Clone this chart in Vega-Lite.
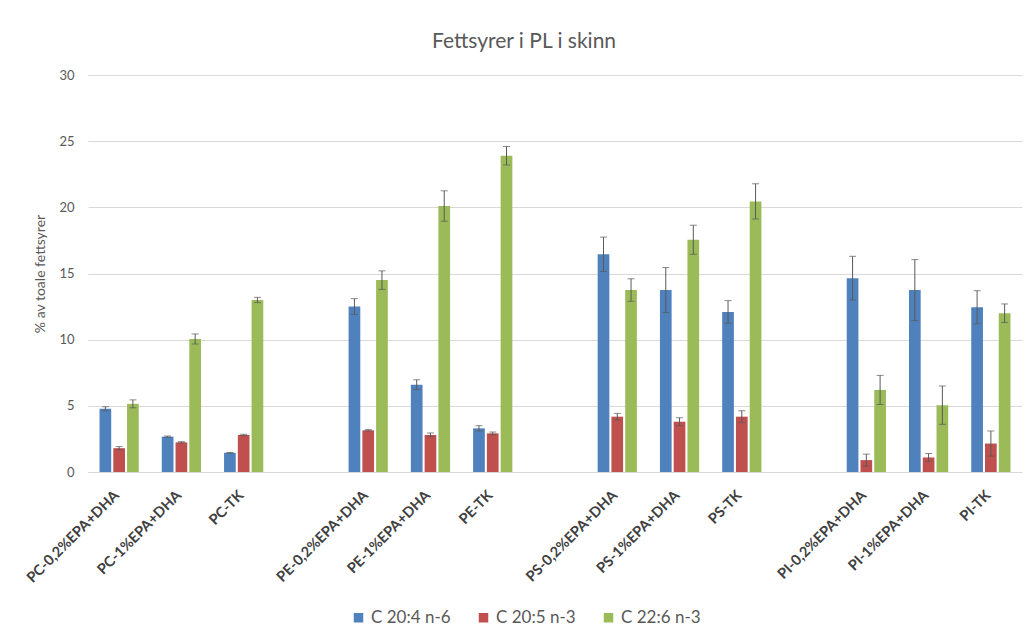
{
  "$schema": "https://vega.github.io/schema/vega-lite/v6.json",
  "autosize": "none",
  "width": 934,
  "height": 397,
  "padding": {"left": 88, "top": 75, "right": 5, "bottom": 167},
  "background": "white",
  "title": {
    "text": "Fettsyrer i PL i skinn",
    "font": "Lato",
    "fontSize": 21,
    "fontWeight": "normal",
    "color": "#595959",
    "anchor": "middle",
    "dx": -31,
    "offset": 17
  },
  "config": {
    "view": {"stroke": null},
    "font": "Lato"
  },
  "data": {
    "values": [
      {"cat": "PC-0,2%EPA+DHA", "s": "C 20:4 n-6", "v": 4.78, "lo": 4.63, "hi": 4.93},
      {"cat": "PC-0,2%EPA+DHA", "s": "C 20:5 n-3", "v": 1.8, "lo": 1.68, "hi": 1.92},
      {"cat": "PC-0,2%EPA+DHA", "s": "C 22:6 n-3", "v": 5.15, "lo": 4.85, "hi": 5.45},
      {"cat": "PC-1%EPA+DHA", "s": "C 20:4 n-6", "v": 2.67, "lo": 2.62, "hi": 2.72},
      {"cat": "PC-1%EPA+DHA", "s": "C 20:5 n-3", "v": 2.24, "lo": 2.19, "hi": 2.29},
      {"cat": "PC-1%EPA+DHA", "s": "C 22:6 n-3", "v": 10.05, "lo": 9.67, "hi": 10.43},
      {"cat": "PC-TK", "s": "C 20:4 n-6", "v": 1.45, "lo": 1.42, "hi": 1.48},
      {"cat": "PC-TK", "s": "C 20:5 n-3", "v": 2.8, "lo": 2.75, "hi": 2.85},
      {"cat": "PC-TK", "s": "C 22:6 n-3", "v": 13.0, "lo": 12.8, "hi": 13.2},
      {"cat": "PE-0,2%EPA+DHA", "s": "C 20:4 n-6", "v": 12.5, "lo": 11.9, "hi": 13.1},
      {"cat": "PE-0,2%EPA+DHA", "s": "C 20:5 n-3", "v": 3.15, "lo": 3.1, "hi": 3.2},
      {"cat": "PE-0,2%EPA+DHA", "s": "C 22:6 n-3", "v": 14.5, "lo": 13.8, "hi": 15.2},
      {"cat": "PE-1%EPA+DHA", "s": "C 20:4 n-6", "v": 6.6, "lo": 6.23, "hi": 6.97},
      {"cat": "PE-1%EPA+DHA", "s": "C 20:5 n-3", "v": 2.8, "lo": 2.65, "hi": 2.95},
      {"cat": "PE-1%EPA+DHA", "s": "C 22:6 n-3", "v": 20.1, "lo": 18.95, "hi": 21.25},
      {"cat": "PE-TK", "s": "C 20:4 n-6", "v": 3.3, "lo": 3.1, "hi": 3.5},
      {"cat": "PE-TK", "s": "C 20:5 n-3", "v": 2.92, "lo": 2.82, "hi": 3.02},
      {"cat": "PE-TK", "s": "C 22:6 n-3", "v": 23.9, "lo": 23.2, "hi": 24.6},
      {"cat": "PS-0,2%EPA+DHA", "s": "C 20:4 n-6", "v": 16.45, "lo": 15.15, "hi": 17.75},
      {"cat": "PS-0,2%EPA+DHA", "s": "C 20:5 n-3", "v": 4.18, "lo": 3.93, "hi": 4.43},
      {"cat": "PS-0,2%EPA+DHA", "s": "C 22:6 n-3", "v": 13.75, "lo": 12.9, "hi": 14.6},
      {"cat": "PS-1%EPA+DHA", "s": "C 20:4 n-6", "v": 13.75, "lo": 12.05, "hi": 15.45},
      {"cat": "PS-1%EPA+DHA", "s": "C 20:5 n-3", "v": 3.8, "lo": 3.5, "hi": 4.1},
      {"cat": "PS-1%EPA+DHA", "s": "C 22:6 n-3", "v": 17.55, "lo": 16.45, "hi": 18.65},
      {"cat": "PS-TK", "s": "C 20:4 n-6", "v": 12.1, "lo": 11.25, "hi": 12.95},
      {"cat": "PS-TK", "s": "C 20:5 n-3", "v": 4.18, "lo": 3.73, "hi": 4.63},
      {"cat": "PS-TK", "s": "C 22:6 n-3", "v": 20.45, "lo": 19.12, "hi": 21.78},
      {"cat": "PI-0,2%EPA+DHA", "s": "C 20:4 n-6", "v": 14.65, "lo": 13.0, "hi": 16.3},
      {"cat": "PI-0,2%EPA+DHA", "s": "C 20:5 n-3", "v": 0.9, "lo": 0.45, "hi": 1.35},
      {"cat": "PI-0,2%EPA+DHA", "s": "C 22:6 n-3", "v": 6.2, "lo": 5.1, "hi": 7.3},
      {"cat": "PI-1%EPA+DHA", "s": "C 20:4 n-6", "v": 13.75, "lo": 11.45, "hi": 16.05},
      {"cat": "PI-1%EPA+DHA", "s": "C 20:5 n-3", "v": 1.1, "lo": 0.8, "hi": 1.4},
      {"cat": "PI-1%EPA+DHA", "s": "C 22:6 n-3", "v": 5.05, "lo": 3.6, "hi": 6.5},
      {"cat": "PI-TK", "s": "C 20:4 n-6", "v": 12.45, "lo": 11.2, "hi": 13.7},
      {"cat": "PI-TK", "s": "C 20:5 n-3", "v": 2.15, "lo": 1.2, "hi": 3.1},
      {"cat": "PI-TK", "s": "C 22:6 n-3", "v": 12.0, "lo": 11.3, "hi": 12.7}
    ]
  },
  "encoding": {
    "x": {
      "field": "cat",
      "type": "nominal",
      "sort": null,
      "scale": {
        "domain": ["PC-0,2%EPA+DHA", "PC-1%EPA+DHA", "PC-TK", " ", "PE-0,2%EPA+DHA", "PE-1%EPA+DHA", "PE-TK", "  ", "PS-0,2%EPA+DHA", "PS-1%EPA+DHA", "PS-TK", "   ", "PI-0,2%EPA+DHA", "PI-1%EPA+DHA", "PI-TK"],
        "paddingInner": 0.37,
        "paddingOuter": 0.185
      },
      "axis": {
        "title": null,
        "labelAngle": -45,
        "labelFont": "Lato",
        "labelFontSize": 14.5,
        "labelFontWeight": "bold",
        "labelColor": "#404040",
        "labelPadding": 16,
        "labelOffset": -7,
        "ticks": false,
        "domainColor": "#d9d9d9",
        "domainWidth": 1
      }
    },
    "xOffset": {
      "field": "s",
      "type": "nominal",
      "scale": {"paddingInner": 0.15}
    }
  },
  "layer": [
    {
      "mark": {"type": "bar"},
      "encoding": {
        "y": {
          "field": "v",
          "type": "quantitative",
          "scale": {"domain": [0, 30], "nice": false},
          "axis": {
            "values": [0, 5, 10, 15, 20, 25, 30],
            "title": "% av toale fettsyrer",
            "titleFont": "Lato",
            "titleFontSize": 14,
            "titleFontWeight": "normal",
            "titleColor": "#595959",
            "titlePadding": 11,
            "labelFont": "Lato",
            "labelFontSize": 13,
            "labelColor": "#595959",
            "labelPadding": 14,
            "ticks": false,
            "domain": false,
            "gridColor": "#d9d9d9",
            "gridWidth": 1
          }
        },
        "color": {
          "field": "s",
          "type": "nominal",
          "scale": {
            "domain": ["C 20:4 n-6", "C 20:5 n-3", "C 22:6 n-3"],
            "range": ["#4F81BD", "#C0504D", "#9BBB59"]
          },
          "legend": {
            "title": null,
            "orient": "none",
            "direction": "horizontal",
            "legendX": 262,
            "legendY": 534,
            "symbolType": "square",
            "symbolSize": 90,
            "symbolStrokeWidth": 0,
            "labelFont": "Lato",
            "labelFontSize": 17,
            "labelColor": "#595959",
            "columnPadding": 24
          }
        }
      }
    },
    {
      "mark": {"type": "rule", "color": "#595959", "strokeWidth": 1},
      "encoding": {
        "y": {"field": "lo", "type": "quantitative"},
        "y2": {"field": "hi"}
      }
    },
    {
      "mark": {"type": "tick", "color": "#595959", "thickness": 1, "size": 7},
      "encoding": {
        "y": {"field": "hi", "type": "quantitative"}
      }
    },
    {
      "mark": {"type": "tick", "color": "#595959", "thickness": 1, "size": 7},
      "encoding": {
        "y": {"field": "lo", "type": "quantitative"}
      }
    }
  ]
}
